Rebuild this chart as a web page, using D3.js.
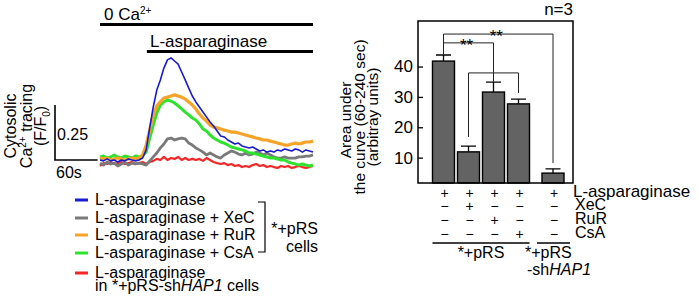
<!DOCTYPE html>
<html>
<head>
<meta charset="utf-8">
<script src="https://cdn.jsdelivr.net/npm/d3@7"></script>
<style>
body { margin: 0; background: #fff; }
svg text { font-family: "Liberation Sans", Arial, Helvetica, sans-serif; fill: #000; }
</style>
</head>
<body>
<svg id="canvas"></svg>
<script>
// ---- data: calcium traces (F/F0), sampled every 5 s ----
let times = [0, 5, 10, 15, 20, 25, 30, 35, 40, 45, 50, 55, 60, 65, 70, 75, 80, 85, 90, 95, 100,
    105, 110, 115, 120, 125, 130, 135, 140, 145, 150, 155, 160, 165, 170, 175, 180, 185, 190, 195, 200,
    205, 210, 215, 220, 225, 230, 235, 240, 245, 250, 255, 260, 265, 270, 275, 280, 285, 290, 295, 300]

let blueVals = [1.009, 1.005, 1.014, 1.005, 1.009, 1.000, 1.009, 1.005, 1.014, 1.009, 1.005, 1.009, 1.018,
    1.055, 1.155, 1.250, 1.327, 1.373, 1.427, 1.464, 1.473,
    1.459, 1.445, 1.409, 1.373, 1.336, 1.300, 1.273, 1.250,
    1.227, 1.205, 1.182, 1.164, 1.141, 1.118, 1.114, 1.100,
    1.091, 1.082, 1.086, 1.073, 1.068, 1.064, 1.068, 1.059,
    1.050, 1.055, 1.045, 1.050, 1.045, 1.055, 1.050, 1.059,
    1.055, 1.050, 1.059, 1.055, 1.045, 1.055, 1.050, 1.045]

let grayVals = [0.995, 0.986, 1.000, 0.991, 0.995, 0.982, 0.991, 1.000, 0.986, 0.995, 0.991, 0.995, 0.991,
    0.986, 1.005, 1.023, 1.041, 1.064, 1.082, 1.105, 1.109,
    1.100, 1.105, 1.109, 1.105, 1.086, 1.077, 1.064, 1.055,
    1.045, 1.032, 1.041, 1.032, 1.023, 1.018, 1.032, 1.041,
    1.050, 1.045, 1.036, 1.032, 1.041, 1.032, 1.036, 1.045,
    1.041, 1.032, 1.041, 1.032, 1.023, 1.018, 1.018, 1.023,
    1.018, 1.018, 1.018, 1.023, 1.023, 1.027, 1.027, 1.032]

let orangeVals = [1.018, 1.014, 1.018, 1.009, 1.014, 1.018, 1.014, 1.009, 1.014, 1.018, 1.014, 1.018, 1.032,
    1.077, 1.145, 1.214, 1.255, 1.273, 1.291, 1.295, 1.300,
    1.305, 1.300, 1.295, 1.286, 1.273, 1.259, 1.241, 1.218,
    1.200, 1.186, 1.168, 1.159, 1.155, 1.150, 1.145, 1.141,
    1.136, 1.136, 1.132, 1.127, 1.123, 1.118, 1.114, 1.109,
    1.105, 1.100, 1.100, 1.095, 1.091, 1.086, 1.082, 1.077,
    1.077, 1.082, 1.086, 1.082, 1.086, 1.091, 1.091, 1.095]

let greenVals = [1.023, 1.027, 1.018, 1.023, 1.032, 1.023, 1.018, 1.027, 1.023, 1.018, 1.027, 1.023, 1.027,
    1.045, 1.109, 1.168, 1.223, 1.259, 1.273, 1.282, 1.277,
    1.268, 1.255, 1.241, 1.227, 1.214, 1.200, 1.191, 1.173,
    1.150, 1.141, 1.123, 1.109, 1.100, 1.091, 1.086, 1.077,
    1.068, 1.064, 1.059, 1.055, 1.050, 1.041, 1.041, 1.036,
    1.032, 1.027, 1.023, 1.018, 1.018, 1.014, 1.009, 1.009,
    1.000, 0.995, 0.991, 0.986, 0.991, 0.986, 0.982, 0.986]

let redVals = [0.982, 0.995, 0.991, 1.000, 0.991, 0.995, 1.000, 0.991, 0.995, 1.000, 0.991, 0.995, 1.000,
    0.991, 1.000, 1.005, 1.014, 1.009, 1.023, 1.009, 1.018,
    1.014, 1.023, 1.009, 1.018, 1.009, 1.014, 1.009, 1.014,
    1.005, 1.018, 1.009, 1.000, 0.995, 0.991, 0.995, 0.986,
    0.991, 0.982, 0.986, 0.977, 0.982, 0.977, 0.986, 0.991,
    0.982, 0.986, 0.977, 0.982, 0.977, 0.973, 0.982, 0.977,
    0.982, 0.973, 0.977, 0.982, 0.977, 0.973, 0.977, 0.982]

let traceNames = ['L-asparaginase', 'L-asparaginase + XeC', 'L-asparaginase + RuR', 'L-asparaginase + CsA', 'L-asparaginase']
let traceColors = ['#1a1ad0', '#7a7a7a', '#f7a328', '#2ee22e', '#f42828']
let traceWidths = [1.6, 2.8, 3.2, 3, 2.2]
let traceSeries = [blueVals, grayVals, orangeVals, greenVals, redVals]
let drawOrder = [4, 1, 3, 2, 0]

// ---- data: area under the curve ----
let barIds = ['asp', 'xec', 'rur', 'csa', 'hap1']
let barGroups = ['pRS', 'pRS', 'pRS', 'pRS', 'HAP1']
let barMeans = [41.8, 11.9, 31.6, 27.7, 4.9]
let barErrs = [2.0, 1.9, 3.3, 1.6, 1.4]
let yTicks = [10, 20, 30, 40]
let treatRows = ['L-asparaginase', 'XeC', 'RuR', 'CsA']
let treatSigns = [
    ['+', '+', '+', '+', '+'],
    ['\u2212', '+', '\u2212', '\u2212', '\u2212'],
    ['\u2212', '\u2212', '+', '\u2212', '\u2212'],
    ['\u2212', '\u2212', '\u2212', '+', '\u2212']
]
let brackets = [
    { from: 0, to: 4, level: 50.7, leftEnd: 43.8, rightEnd: 8.2, label: '**' },
    { from: 0, to: 2, level: 47.8, leftEnd: 43.8, rightEnd: 37.9, label: '**' },
    { from: 1, to: 3, level: 37.9, leftEnd: 16.8, rightEnd: 31.3, label: '', stem: 2, stemEnd: 34.9 }
]

let width = 699
let height = 300

let canvas = d3.select('#canvas')
canvas.attr('width', width).attr('height', height)

// ================= left panel: traces =================
let xT = d3.scaleLinear().domain([0, 300]).range([100, 313])
let yT = d3.scaleLinear().domain([1, 1.5]).range([162, 52])

let drawTraces = () => {
    let line = d3.line()
        .x((d, i) => xT(times[i]))
        .y((d) => yT(d))
    drawOrder.forEach((k) => {
        canvas.append('path')
            .datum(traceSeries[k])
            .attr('d', line)
            .attr('fill', 'none')
            .attr('stroke', traceColors[k])
            .attr('stroke-width', traceWidths[k])
            .attr('stroke-linejoin', 'round')
    })

    // treatment bars on top
    canvas.append('text').attr('x', 104).attr('y', 20).attr('font-size', 17)
        .text('0 Ca').append('tspan').attr('font-size', 10).attr('dy', -6).text('2+')
    canvas.append('line').attr('x1', xT(0)).attr('x2', xT(300)).attr('y1', 24.5).attr('y2', 24.5)
        .attr('stroke', '#000').attr('stroke-width', 3)
    canvas.append('text').attr('x', 150).attr('y', 47).attr('font-size', 17).text('L-asparaginase')
    canvas.append('line').attr('x1', xT(66)).attr('x2', xT(300)).attr('y1', 51.5).attr('y2', 51.5)
        .attr('stroke', '#000').attr('stroke-width', 3)

    // scale bar
    let bx = 55
    let by = 160
    canvas.append('path')
        .attr('d', 'M' + bx + ',' + (by - (yT(1) - yT(1.25))) + 'V' + by + 'H' + (bx + xT(60) - xT(0)))
        .attr('fill', 'none').attr('stroke', '#000').attr('stroke-width', 1.6)
    canvas.append('text').attr('x', 57).attr('y', 140).attr('font-size', 16).text('0.25')
    canvas.append('text').attr('x', 56).attr('y', 178).attr('font-size', 16).text('60s')

    // y label
    let lab = canvas.append('g').attr('font-size', 16)
    lab.append('text').attr('transform', 'translate(16,126) rotate(-90)').attr('text-anchor', 'middle').text('Cytosolic')
    let t2 = lab.append('text').attr('transform', 'translate(32,126) rotate(-90)').attr('text-anchor', 'middle')
    t2.append('tspan').text('Ca')
    t2.append('tspan').attr('font-size', 10).attr('dy', -6).text('2+')
    t2.append('tspan').attr('dy', 6).text(' tracing')
    let t3 = lab.append('text').attr('transform', 'translate(46,126) rotate(-90)').attr('text-anchor', 'middle')
    t3.append('tspan').text('(F/F')
    t3.append('tspan').attr('font-size', 10).attr('dy', 4).text('0')
    t3.append('tspan').attr('dy', -4).text(')')
}

let drawLegend = () => {
    let ly = [200, 218, 235, 253, 273]
    let lg = canvas.append('g').attr('font-size', 16)
    traceNames.forEach((name, i) => {
        lg.append('line').attr('x1', 75).attr('x2', 88).attr('y1', ly[i]).attr('y2', ly[i])
            .attr('stroke', traceColors[i]).attr('stroke-width', 3)
        lg.append('text').attr('x', 95).attr('y', ly[i] + 5).text(name)
    })
    let last = lg.append('text').attr('x', 95).attr('y', 291)
    last.append('tspan').text('in *+pRS-sh')
    last.append('tspan').attr('font-style', 'italic').text('HAP1')
    last.append('tspan').text(' cells')

    lg.append('path').attr('d', 'M258,202H265V252H258')
        .attr('fill', 'none').attr('stroke', '#000').attr('stroke-width', 1.2)
    lg.append('text').attr('x', 318).attr('y', 234).attr('text-anchor', 'end').text('*+pRS')
    lg.append('text').attr('x', 318).attr('y', 252).attr('text-anchor', 'end').text('cells')
}

// ================= right panel: bars =================
let frameLeft = 418
let frameRight = 573
let frameBottom = 183
let yR = d3.scaleLinear().domain([0, 55]).range([188, 21])
let xR = d3.scaleBand().domain(barIds).range([431, 556]).paddingInner(0.12).paddingOuter(0.06)
let groupOffset = { pRS: 0, HAP1: 9.5 }
let barX = (i) => xR(barIds[i]) + groupOffset[barGroups[i]]
let barC = (i) => barX(i) + xR.bandwidth() / 2

let drawBars = () => {
    let g = canvas.append('g')
    g.selectAll('rect.bar')
        .data(barMeans)
        .enter()
        .append('rect')
        .attr('class', 'bar')
        .attr('x', (d, i) => barX(i))
        .attr('y', (d) => yR(d))
        .attr('width', xR.bandwidth())
        .attr('height', (d) => frameBottom - yR(d))
        .attr('fill', '#636363')
        .attr('stroke', '#000')
        .attr('stroke-width', 1.4)

    g.selectAll('path.err')
        .data(barMeans)
        .enter()
        .append('path')
        .attr('class', 'err')
        .attr('d', (d, i) => {
            let c = barC(i)
            let top = yR(d + barErrs[i])
            return 'M' + c + ',' + yR(d) + 'V' + top + 'M' + (c - 7.5) + ',' + top + 'H' + (c + 7.5)
        })
        .attr('fill', 'none')
        .attr('stroke', '#000')
        .attr('stroke-width', 1.3)

    // frame
    canvas.append('rect')
        .attr('x', frameLeft).attr('y', yR(55))
        .attr('width', frameRight - frameLeft).attr('height', frameBottom - yR(55))
        .attr('fill', 'none').attr('stroke', '#000').attr('stroke-width', 1.5)

    let yAxis = d3.axisLeft(yR).tickValues(yTicks).tickSize(-5).tickPadding(5)
    let ax = canvas.append('g')
        .attr('transform', 'translate(' + frameLeft + ',0)')
        .call(yAxis)
    ax.select('.domain').remove()
    ax.selectAll('text').attr('font-size', 17).attr('font-family', '"Liberation Sans", Arial, sans-serif')
    ax.selectAll('line').attr('stroke-width', 1.3)

    // significance brackets
    brackets.forEach((b) => {
        let x1 = barC(b.from)
        let x2 = barC(b.to)
        canvas.append('path')
            .attr('d', 'M' + x1 + ',' + yR(b.leftEnd) + 'V' + yR(b.level) + 'H' + x2 + 'V' + yR(b.rightEnd))
            .attr('fill', 'none').attr('stroke', '#222').attr('stroke-width', 1)
        if (b.stem !== undefined) {
            canvas.append('line')
                .attr('x1', barC(b.stem)).attr('x2', barC(b.stem))
                .attr('y1', yR(b.level)).attr('y2', yR(b.stemEnd))
                .attr('stroke', '#222').attr('stroke-width', 1)
        }
        if (b.label) {
            canvas.append('text')
                .attr('x', (x1 + x2) / 2 - 2)
                .attr('y', yR(b.level) + 8)
                .attr('text-anchor', 'middle')
                .attr('font-size', 17)
                .attr('fill', '#444')
                .text(b.label)
        }
    })

    canvas.append('text').attr('x', frameRight).attr('y', 15).attr('text-anchor', 'end')
        .attr('font-size', 17).text('n=3')

    // y label
    let yl = canvas.append('g').attr('font-size', 15.5).attr('text-anchor', 'middle')
    yl.append('text').attr('transform', 'translate(351,120) rotate(-90)').text('Area under')
    yl.append('text').attr('transform', 'translate(365,117) rotate(-90)').text('the curve (60-240 sec)')
    yl.append('text').attr('transform', 'translate(378,117) rotate(-90)').text('(arbitray units)')

    // treatment table
    let rowY = [197, 210, 224, 238]
    let tb = canvas.append('g').attr('font-size', 16)
    treatRows.forEach((name, r) => {
        treatSigns[r].forEach((s, i) => {
            tb.append('text').attr('x', barC(i) + 1).attr('y', rowY[r] + 1).attr('text-anchor', 'middle')
                .attr('font-size', 14).text(s)
        })
        tb.append('text').attr('x', name === 'L-asparaginase' ? 573 : 575).attr('y', rowY[r])
            .attr('font-size', name === 'L-asparaginase' ? 17 : 16).text(name)
    })

    // group lines and labels
    canvas.append('line').attr('x1', barX(0)).attr('x2', barX(3) + xR.bandwidth())
        .attr('y1', 243).attr('y2', 243).attr('stroke', '#000').attr('stroke-width', 1.4)
    canvas.append('line').attr('x1', barX(4) - 5).attr('x2', barX(4) + xR.bandwidth() + 6)
        .attr('y1', 243).attr('y2', 243).attr('stroke', '#000').attr('stroke-width', 1.4)
    tb.append('text').attr('x', (barC(0) + barC(3)) / 2).attr('y', 258).attr('text-anchor', 'middle').text('*+pRS')
    tb.append('text').attr('x', 525).attr('y', 258).text('*+pRS')
    let sh = tb.append('text').attr('x', 527).attr('y', 275)
    sh.append('tspan').text('-sh')
    sh.append('tspan').attr('font-style', 'italic').text('HAP1')
}

drawTraces()
drawLegend()
drawBars()
</script>
</body>
</html>
